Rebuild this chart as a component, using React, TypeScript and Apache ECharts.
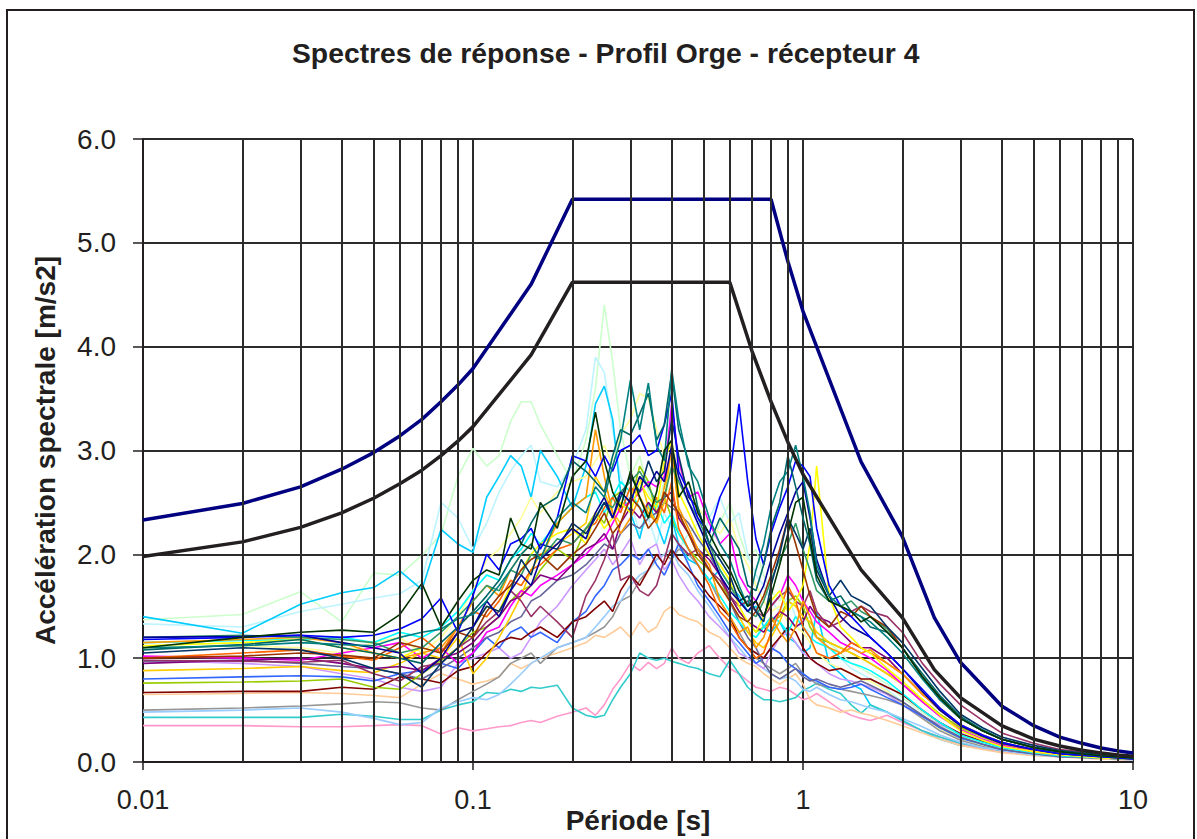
import React, { useEffect, useRef } from "react";
import * as echarts from "echarts";

const TITLE = "Spectres de réponse - Profil Orge - récepteur 4";
const X_NAME = "Période [s]";
const Y_NAME = "Accélération spectrale [m/s2]";
const xTickLabels = ["0.01", "0.1", "1", "10"];
const gridPeriods = [0.02, 0.03, 0.04, 0.05, 0.06, 0.07, 0.08, 0.09, 0.2, 0.3, 0.4, 0.5, 0.6, 0.7, 0.8, 0.9, 2, 3, 4, 5, 6, 7, 8, 9];

// design spectra
const navyPeriods = [0.01, 0.02, 0.03, 0.04, 0.05, 0.06, 0.07, 0.08, 0.09, 0.1, 0.15, 0.2, 0.8, 0.9, 1.0, 1.5, 2.0, 2.5, 3, 4, 5, 6, 7, 8, 9, 10];
const navyValues = [2.33, 2.49, 2.65, 2.82, 2.98, 3.14, 3.30, 3.47, 3.63, 3.79, 4.60, 5.42, 5.42, 4.82, 4.34, 2.89, 2.17, 1.39, 0.96, 0.54, 0.35, 0.24, 0.18, 0.135, 0.107, 0.087];
const blackPeriods = [0.01, 0.02, 0.03, 0.04, 0.05, 0.06, 0.07, 0.08, 0.09, 0.1, 0.15, 0.2, 0.6, 0.7, 0.8, 0.9, 1.0, 1.5, 2.0, 2.5, 3, 4, 5, 6, 7, 8, 9, 10];
const blackValues = [1.98, 2.12, 2.26, 2.40, 2.54, 2.68, 2.81, 2.95, 3.09, 3.23, 3.92, 4.62, 4.62, 3.96, 3.47, 3.08, 2.77, 1.85, 1.39, 0.89, 0.62, 0.35, 0.22, 0.154, 0.113, 0.087, 0.068, 0.055];

// periods of the computed spectra
const periods = [
  0.01, 0.02, 0.03, 0.04, 0.05, 0.06, 0.07, 0.08, 0.09, 0.1,
  0.11, 0.12, 0.13, 0.14, 0.15, 0.16, 0.18, 0.2, 0.22, 0.235,
  0.25, 0.265, 0.28, 0.3, 0.32, 0.34, 0.36, 0.38, 0.4, 0.42,
  0.45, 0.48, 0.52, 0.56, 0.6, 0.64, 0.68, 0.72, 0.76, 0.8,
  0.85, 0.9, 0.95, 1.0, 1.05, 1.1, 1.2, 1.3, 1.4, 1.5,
  1.6, 1.8, 2.0, 2.3, 2.6, 3.0, 3.5, 4, 5, 6, 8, 10,
];

const lightGreen = [1.37,1.42,1.64,1.35,1.82,1.80,1.99,2.19,2.75,3.02, 2.85,2.95,3.28,3.47,3.47,3.25,2.95,2.70,3.10,3.60, 4.40,3.85,3.20,2.75,2.95,2.60,2.45,2.70,2.55,2.35, 2.20,2.30,2.05,2.30,2.50,2.20,1.95,2.05,1.80,1.65, 1.55,1.70,1.50,1.35,1.40,1.25,1.15,1.05,0.95,0.90, 0.85,0.75,0.62,0.48,0.36,0.25,0.18,0.13,0.09,0.07,0.05,0.03];
const lightCyan = [1.33,1.30,1.45,1.52,1.58,1.62,1.75,2.50,2.35,2.05, 2.30,2.60,2.80,2.95,3.05,2.70,2.65,2.85,3.20,3.90, 3.75,3.20,2.75,2.50,2.20,2.35,2.10,2.40,2.25,2.05, 2.20,2.00,2.35,2.55,2.30,2.40,2.00,1.80,1.70,1.55, 1.45,1.60,1.40,1.30,1.25,1.20,1.10,1.00,0.90,0.85, 0.80,0.70,0.58,0.44,0.33,0.23,0.17,0.12,0.08,0.06,0.04,0.03];
const skyBlue = [1.40,1.24,1.52,1.63,1.68,1.84,1.66,2.24,2.10,2.02, 2.55,2.75,2.95,2.85,2.55,3.00,2.75,2.45,2.85,3.45, 3.62,3.30,2.60,2.40,2.15,2.50,2.30,2.10,2.35,2.10, 1.95,1.90,1.75,1.85,1.70,1.60,1.45,1.50,1.30,1.25, 1.35,1.20,1.15,1.05,1.10,1.45,0.95,0.85,0.75,0.70, 0.55,0.48,0.40,0.30,0.22,0.16,0.13,0.10,0.07,0.05,0.04,0.03];
const teal = [1.10,1.12,1.15,1.13,1.12,1.20,1.25,1.28,1.38,1.42, 1.55,1.70,1.85,2.00,2.10,1.95,2.35,2.50,2.40,2.65, 2.55,2.85,3.10,3.68,3.20,3.65,3.05,2.90,3.78,3.30, 2.85,2.70,2.35,2.10,1.95,1.70,1.50,1.85,2.10,2.45, 2.70,2.80,3.05,2.75,2.40,1.90,1.60,1.50,1.45,1.40, 1.35,1.20,1.05,0.80,0.60,0.42,0.30,0.22,0.14,0.10,0.06,0.04];
const blue = [1.18,1.20,1.22,1.20,1.22,1.28,1.38,1.58,1.25,1.60, 2.00,1.85,2.10,2.15,2.25,2.05,2.35,2.95,2.90,2.75, 2.95,2.80,3.00,3.05,3.15,2.95,3.00,3.25,3.55,2.80, 2.60,2.35,2.20,2.55,2.75,3.45,2.70,2.15,1.90,2.20, 2.45,2.65,2.90,2.85,2.75,2.25,1.70,1.50,1.40,1.30, 1.20,1.05,0.90,0.70,0.52,0.36,0.26,0.19,0.12,0.08,0.05,0.03];
const darkGreen = [1.10,1.20,1.25,1.27,1.25,1.42,1.72,1.30,1.55,1.75, 1.85,1.80,2.35,2.10,2.05,2.50,2.25,2.75,2.90,3.37, 2.90,2.60,2.45,2.80,2.55,2.35,2.60,3.00,3.10,2.55, 2.70,2.40,2.20,2.00,1.85,1.65,1.50,1.55,1.40,1.60, 1.90,2.20,2.50,2.55,2.15,1.80,1.55,1.50,1.45,1.35, 1.40,1.25,1.10,0.82,0.62,0.42,0.30,0.22,0.14,0.10,0.06,0.04];
const darkTeal = [1.08,1.13,1.18,1.10,1.05,1.00,0.95,1.15,1.30,1.45, 1.60,1.75,1.95,2.10,2.30,2.45,2.55,2.90,2.80,2.70, 2.60,2.95,3.20,3.15,3.35,3.55,3.10,3.25,3.75,3.20, 2.90,2.45,2.10,2.35,2.20,2.05,1.70,1.65,1.90,2.25, 2.50,2.95,2.65,2.35,2.10,1.75,1.55,1.60,1.45,1.40, 1.30,1.25,1.10,0.85,0.64,0.44,0.31,0.22,0.14,0.10,0.06,0.04];
const steelNavy = [1.05,1.10,1.08,1.00,0.90,0.85,0.72,0.95,1.10,1.30, 1.50,1.45,1.65,1.95,1.80,2.10,2.05,2.30,2.20,2.35, 2.50,2.35,2.55,2.75,2.60,2.90,2.70,2.80,3.30,2.95, 2.55,2.45,2.10,1.95,1.80,1.55,1.60,1.45,1.35,1.70, 2.00,2.35,2.20,2.05,2.25,1.85,1.60,1.75,1.60,1.55, 1.50,1.30,1.15,0.90,0.68,0.46,0.33,0.24,0.16,0.11,0.07,0.05];
const olive = [0.76,0.77,0.78,0.80,0.72,0.70,0.85,0.98,1.10,1.25, 1.30,1.40,1.55,1.65,1.70,1.85,2.05,1.95,2.25,2.40, 2.30,2.55,2.60,2.50,2.85,2.70,2.40,2.55,2.35,2.20, 2.05,1.95,1.85,1.70,1.60,1.45,1.35,1.25,1.30,1.35, 1.40,1.55,1.60,1.50,1.30,1.20,1.15,1.10,1.05,1.00, 0.95,0.85,0.75,0.60,0.46,0.33,0.24,0.17,0.11,0.08,0.05,0.03];
const yellow = [1.12,1.15,1.18,1.10,1.05,1.00,1.10,1.05,1.25,1.30, 1.50,1.45,1.70,1.85,2.00,2.10,2.20,2.25,2.10,2.40, 2.25,2.35,2.50,2.40,2.70,2.55,2.45,2.90,3.10,2.60, 2.40,2.20,2.00,1.90,1.75,1.50,1.35,1.25,1.40,1.55, 1.65,1.45,1.55,1.70,2.10,2.85,1.60,1.30,1.20,1.10, 1.05,0.90,0.78,0.60,0.45,0.30,0.21,0.15,0.10,0.07,0.04,0.03];
const paleYellow = [1.10,1.12,1.10,1.05,1.15,1.20,1.05,1.20,1.40,1.65, 1.95,2.05,2.20,2.35,2.55,2.40,2.60,2.70,2.75,2.90, 3.05,2.85,3.15,3.30,3.55,3.50,3.20,2.95,3.05,2.85, 2.60,2.45,2.30,2.20,2.35,2.05,1.90,1.70,1.55,1.45, 1.50,1.35,1.30,1.25,1.15,1.05,0.95,0.90,0.85,0.80, 0.78,0.68,0.56,0.42,0.32,0.22,0.16,0.12,0.08,0.06,0.04,0.03];
const gold = [0.88,0.90,0.92,0.88,0.86,0.95,1.05,1.00,1.20,0.85, 1.00,1.20,1.40,1.60,1.85,2.00,2.10,2.20,2.30,2.75, 2.60,2.40,2.30,2.55,2.75,2.45,2.30,2.50,3.05,2.40, 2.20,2.00,1.85,1.70,1.55,1.40,1.25,1.15,1.10,1.20, 1.35,1.55,1.50,1.40,1.35,1.25,1.15,1.10,1.05,1.00, 0.95,0.85,0.75,0.58,0.45,0.31,0.22,0.16,0.10,0.07,0.05,0.03];
const orange = [1.15,1.18,1.20,1.15,1.05,1.00,1.05,1.10,1.30,1.55, 1.70,1.60,1.85,2.00,2.10,1.95,2.30,2.45,2.55,3.20, 2.75,2.40,2.20,2.35,2.55,2.40,2.30,2.65,3.00,2.45, 2.25,2.05,1.90,1.55,1.40,1.25,1.30,1.10,1.20,1.40, 1.25,1.15,1.30,1.55,1.40,1.20,1.10,1.05,1.10,1.05, 1.08,0.95,0.85,0.66,0.50,0.35,0.25,0.18,0.12,0.08,0.05,0.04];
const darkOrange = [1.00,1.05,1.08,1.02,0.98,1.10,1.20,1.05,1.30,1.45, 1.40,1.55,1.75,1.70,1.85,1.90,2.05,2.10,2.25,2.30, 2.45,2.55,2.40,2.65,2.55,2.35,2.55,2.40,2.70,2.25, 2.05,1.90,1.70,1.45,1.35,1.20,1.10,1.00,1.05,1.25, 1.45,1.70,1.55,1.30,1.20,1.05,1.00,1.05,1.15,1.10, 1.05,0.95,0.85,0.65,0.52,0.36,0.26,0.19,0.12,0.08,0.05,0.04];
const magenta = [1.02,1.00,0.98,1.05,1.10,1.15,1.00,1.10,0.95,1.05, 1.25,1.30,1.50,1.65,1.60,1.70,1.80,1.90,2.00,2.10, 2.15,2.30,2.45,2.50,2.60,2.70,2.65,2.75,3.45,2.90, 2.55,2.60,2.30,2.10,2.20,1.80,1.65,1.55,1.40,1.50, 1.60,1.80,1.70,1.55,1.45,1.35,1.25,1.15,1.10,1.05, 1.00,0.88,0.75,0.58,0.44,0.31,0.22,0.16,0.10,0.07,0.05,0.03];
const purple = [0.95,0.98,1.00,0.95,0.90,0.92,0.88,1.00,1.05,1.15, 1.30,1.40,1.55,1.60,1.70,1.80,1.75,1.90,2.05,2.10, 2.20,2.05,2.30,2.45,2.35,2.50,2.40,2.55,2.60,2.35, 2.20,2.05,1.95,1.80,1.60,1.45,1.35,1.30,1.25,1.35, 1.45,1.40,1.30,1.35,1.50,1.40,1.35,1.25,1.15,1.10, 1.10,1.00,0.85,0.66,0.50,0.35,0.25,0.18,0.12,0.08,0.05,0.04];
const plum = [0.98,0.97,0.96,0.98,0.85,0.78,0.92,0.95,1.10,1.20, 1.35,1.45,1.65,1.55,1.40,1.50,1.35,1.20,1.60,1.75, 1.95,2.20,1.75,1.80,1.65,1.60,1.70,1.95,2.20,2.10, 2.00,2.05,1.85,1.75,1.60,1.50,1.55,1.45,1.40,1.50, 1.60,1.65,1.55,1.50,1.65,1.45,1.30,1.35,1.45,1.50, 1.45,1.40,1.25,0.95,0.75,0.55,0.40,0.28,0.18,0.12,0.08,0.05];
const lavender = [0.98,0.95,0.92,0.85,0.80,0.72,0.68,0.72,0.95,1.00, 1.05,1.10,1.00,1.05,1.20,1.35,1.50,1.70,1.85,1.95, 2.05,1.90,2.00,2.15,1.90,2.05,2.10,1.85,1.95,1.80, 1.65,1.55,1.40,1.30,1.20,1.05,1.00,0.95,0.90,1.05, 1.20,1.25,1.15,1.05,1.00,0.95,0.85,0.80,0.78,0.75, 0.72,0.65,0.55,0.44,0.36,0.28,0.20,0.15,0.10,0.07,0.05,0.03];
const peach = [0.65,0.66,0.67,0.66,0.64,0.62,0.75,0.85,0.80,0.75, 0.78,0.82,0.95,0.90,0.95,1.00,1.05,1.10,1.15,1.22, 1.20,1.25,1.30,1.20,1.35,1.25,1.30,1.45,1.50,1.42, 1.38,1.35,1.25,1.20,1.10,1.00,0.95,0.92,0.85,0.80, 0.75,0.80,0.85,0.75,0.60,0.55,0.52,0.48,0.50,0.47, 0.45,0.40,0.35,0.28,0.22,0.16,0.12,0.09,0.06,0.05,0.03,0.02];
const gray = [0.50,0.52,0.54,0.56,0.58,0.57,0.52,0.50,0.60,0.68, 0.75,0.82,0.95,1.00,1.05,0.95,1.10,1.15,1.20,1.25, 1.30,1.40,1.55,1.60,1.75,1.85,1.95,2.00,1.95,2.05, 2.00,1.90,1.75,1.55,1.40,1.25,1.10,1.00,0.95,0.90, 0.85,0.90,0.95,0.85,0.80,0.75,0.72,0.70,0.68,0.66, 0.64,0.60,0.55,0.42,0.30,0.21,0.15,0.11,0.08,0.05,0.04,0.03];
const lightBlue = [0.48,0.50,0.52,0.48,0.42,0.36,0.38,0.52,0.58,0.62, 0.60,0.65,0.75,0.85,0.95,1.00,1.10,1.15,1.20,1.30, 1.40,1.50,1.55,1.70,1.80,1.85,1.95,2.00,2.05,1.90, 1.80,1.65,1.50,1.35,1.20,1.10,1.00,0.95,0.90,0.85, 0.80,0.82,0.78,0.70,0.68,0.72,0.65,0.60,0.58,0.55, 0.52,0.48,0.42,0.34,0.26,0.19,0.14,0.11,0.07,0.05,0.04,0.02];
const royalBlue = [0.80,0.82,0.83,0.82,0.78,0.85,0.88,0.95,0.90,1.05, 1.20,1.10,1.25,1.30,1.20,1.25,1.15,1.35,1.45,1.60, 1.70,1.85,1.90,2.00,1.95,2.05,1.90,1.80,1.95,2.10, 1.90,1.70,1.55,1.40,1.25,1.15,1.05,0.95,1.00,1.10, 1.05,0.95,0.90,0.85,0.80,0.78,0.72,0.70,0.72,0.75, 0.70,0.62,0.55,0.44,0.33,0.23,0.17,0.12,0.08,0.06,0.04,0.03];
const maroon = [0.67,0.68,0.68,0.72,0.70,0.82,0.80,0.76,0.88,0.92, 1.05,1.15,1.20,1.18,1.25,1.30,1.20,1.35,1.40,1.48, 1.55,1.45,1.65,1.80,1.70,1.85,2.00,1.90,2.05,1.95, 1.85,1.75,1.60,1.50,1.40,1.20,1.10,1.05,1.00,1.10, 1.20,1.30,1.25,1.10,1.00,0.95,0.88,0.90,0.85,0.80, 0.80,0.72,0.65,0.50,0.38,0.27,0.20,0.15,0.10,0.07,0.04,0.03];
const brown = [1.00,1.02,1.05,1.03,1.00,1.15,1.10,1.05,1.25,1.20, 1.45,1.60,1.70,1.85,1.95,2.00,1.85,2.00,2.10,2.25, 2.40,2.20,2.30,2.55,2.45,2.25,2.35,2.60,2.50,2.40, 2.20,2.00,1.85,1.70,1.55,1.40,1.35,1.45,1.60,1.80, 2.05,2.35,2.10,1.85,1.60,1.40,1.30,1.45,1.40,1.50, 1.40,1.30,1.10,0.82,0.60,0.42,0.30,0.22,0.14,0.10,0.06,0.04];
const turquoise = [0.43,0.43,0.43,0.46,0.44,0.41,0.41,0.50,0.55,0.58, 0.67,0.66,0.70,0.68,0.72,0.71,0.74,0.52,0.45,0.43, 0.45,0.60,0.72,0.85,1.05,1.00,0.98,1.00,0.97,0.95, 0.92,0.90,0.85,0.82,0.98,0.85,0.72,0.65,0.60,0.60, 0.58,0.60,0.62,0.69,0.72,0.76,0.70,0.66,0.55,0.47, 0.55,0.48,0.40,0.30,0.24,0.18,0.14,0.11,0.08,0.05,0.04,0.03];
const pink = [0.35,0.35,0.34,0.34,0.35,0.36,0.35,0.27,0.33,0.30, 0.32,0.34,0.35,0.38,0.40,0.38,0.44,0.48,0.52,0.45, 0.55,0.70,0.80,0.95,0.88,0.96,0.90,0.95,1.10,1.00, 0.95,1.05,1.12,1.00,0.90,0.85,0.78,0.72,0.70,0.68, 0.72,0.70,0.65,0.60,0.62,0.66,0.58,0.50,0.45,0.42, 0.40,0.45,0.38,0.30,0.24,0.17,0.13,0.10,0.07,0.05,0.03,0.02];
const cyan = [1.15,1.17,1.18,1.20,1.15,1.25,1.20,1.30,1.45,1.65, 1.80,1.75,1.95,2.05,2.20,2.10,2.30,2.45,2.55,2.60, 2.40,2.55,2.70,2.60,2.45,2.35,2.50,2.30,2.40,2.20, 2.05,1.90,1.75,1.60,1.45,1.35,1.25,1.20,1.30,1.40, 1.35,1.25,1.40,1.30,1.20,1.15,1.10,1.00,0.95,0.92, 0.88,0.78,0.66,0.50,0.38,0.26,0.19,0.14,0.09,0.06,0.04,0.03];
const seaGreen = [1.20,1.22,1.20,1.18,1.15,1.05,1.10,1.25,1.40,1.55, 1.70,1.65,1.85,1.80,2.00,1.95,2.15,2.10,2.25,2.35, 2.50,2.45,2.60,2.70,2.80,2.65,2.50,2.55,2.85,2.70, 2.50,2.35,2.10,1.85,1.70,1.55,1.45,1.40,1.55,1.75, 1.95,2.10,2.30,2.05,1.85,1.65,1.55,1.50,1.55,1.45, 1.40,1.28,1.10,0.82,0.60,0.42,0.30,0.22,0.14,0.10,0.06,0.04];
const slate = [0.97,0.98,0.95,0.92,0.90,0.85,0.80,0.90,1.00,1.10, 1.20,1.25,1.35,1.40,1.55,1.60,1.75,1.80,1.90,2.00, 2.10,2.05,2.20,2.30,2.25,2.35,2.40,2.50,2.45,2.40, 2.30,2.15,2.00,1.80,1.55,1.35,1.20,1.10,0.95,0.85, 0.80,0.85,0.90,0.82,0.78,0.80,0.75,0.72,0.75,0.78, 0.74,0.66,0.58,0.45,0.34,0.24,0.17,0.12,0.08,0.05,0.04,0.03];
const deepBlue = [1.20,1.21,1.22,1.15,1.10,1.05,0.85,1.00,1.25,1.30, 1.55,1.40,1.65,1.80,1.70,1.95,2.10,2.25,2.15,2.40, 2.55,2.35,2.60,2.50,2.75,2.65,2.80,2.70,3.05,2.75, 2.50,2.30,2.05,1.80,1.65,1.55,1.45,1.55,1.70,1.95, 2.20,2.40,2.60,2.70,2.35,1.95,1.60,1.40,1.30,1.25, 1.20,1.05,0.90,0.68,0.50,0.35,0.25,0.18,0.12,0.08,0.05,0.03];

const spectra: { name: string; color: string; values: number[] }[] = [
  { name: "r1", color: "#CCFFCC", values: lightGreen },
  { name: "r2", color: "#BDF4FF", values: lightCyan },
  { name: "r3", color: "#00CCFF", values: skyBlue },
  { name: "r4", color: "#FFFF99", values: paleYellow },
  { name: "r5", color: "#FF99CC", values: pink },
  { name: "r6", color: "#33CCCC", values: turquoise },
  { name: "r7", color: "#FFCC99", values: peach },
  { name: "r8", color: "#969696", values: gray },
  { name: "r9", color: "#99CCFF", values: lightBlue },
  { name: "r10", color: "#CC99FF", values: lavender },
  { name: "r11", color: "#3366FF", values: royalBlue },
  { name: "r12", color: "#800000", values: maroon },
  { name: "r13", color: "#666699", values: slate },
  { name: "r14", color: "#99CC00", values: olive },
  { name: "r15", color: "#00FFFF", values: cyan },
  { name: "r16", color: "#FFCC00", values: gold },
  { name: "r17", color: "#FF00FF", values: magenta },
  { name: "r18", color: "#800080", values: purple },
  { name: "r19", color: "#993366", values: plum },
  { name: "r20", color: "#FF6600", values: darkOrange },
  { name: "r21", color: "#FF9900", values: orange },
  { name: "r22", color: "#FFFF00", values: yellow },
  { name: "r23", color: "#339966", values: seaGreen },
  { name: "r24", color: "#993300", values: brown },
  { name: "r25", color: "#003366", values: steelNavy },
  { name: "r26", color: "#000099", values: deepBlue },
  { name: "r27", color: "#0000FF", values: blue },
  { name: "r28", color: "#006666", values: darkTeal },
  { name: "r29", color: "#008080", values: teal },
  { name: "r30", color: "#003300", values: darkGreen },
];

const FONT = "'Liberation Sans', Arial, sans-serif";

export default function App() {
  const ref = useRef<HTMLDivElement>(null);
  useEffect(() => {
    if (!ref.current) return;
    const chart = echarts.init(ref.current, undefined, { renderer: "svg" });
    const series: any[] = [];
    series.push({
      type: "line",
      name: "grid",
      data: [[0.01, 0]],
      symbol: "none",
      lineStyle: { opacity: 0 },
      silent: true,
      z: 1,
      markLine: {
        silent: true,
        symbol: ["none", "none"],
        label: { show: false },
        lineStyle: { color: "#2b2b2b", width: 2, type: "solid" },
        data: gridPeriods.map((p) => ({ xAxis: p })),
      },
    });
    spectra.forEach((s) => {
      series.push({
        type: "line",
        name: s.name,
        data: periods.map((p, i) => [p, s.values[i]]),
        symbol: "none",
        lineStyle: { color: s.color, width: 1.6 },
        z: 3,
      });
    });
    series.push({
      type: "line",
      name: "EC8 b",
      data: blackPeriods.map((p, i) => [p, blackValues[i]]),
      symbol: "none",
      lineStyle: { color: "#231f20", width: 3.5 },
      z: 4,
    });
    series.push({
      type: "line",
      name: "EC8 a",
      data: navyPeriods.map((p, i) => [p, navyValues[i]]),
      symbol: "none",
      lineStyle: { color: "#000080", width: 3.5 },
      z: 4,
    });
    chart.setOption({
      animation: false,
      backgroundColor: "#ffffff",
      title: {
        text: TITLE,
        left: 287,
        top: 34,
        textStyle: { fontFamily: FONT, fontSize: 28.3, fontWeight: "bold", color: "#231f20" },
      },
      graphic: [
        {
          type: "rect",
          shape: { x: 7, y: 10, width: 1187, height: 900 },
          style: { fill: "none", stroke: "#231f20", lineWidth: 2 },
          silent: true,
          z: 0,
        },
      ],
      grid: { left: 143, right: 64, top: 139, bottom: 77, outerBoundsMode: "none", containLabel: false },
      xAxis: {
        type: "log",
        logBase: 10,
        min: 0.01,
        max: 10,
        name: X_NAME,
        nameLocation: "middle",
        nameGap: 44,
        nameMoveOverlap: false,
        nameTextStyle: { fontFamily: FONT, fontSize: 28, fontWeight: "bold", color: "#231f20" },
        axisLine: { show: true, lineStyle: { color: "#231f20", width: 2 } },
        axisTick: { show: true, length: 8, lineStyle: { color: "#231f20", width: 1.5 } },
        axisLabel: {
          fontFamily: FONT,
          fontSize: 27,
          color: "#231f20",
          margin: 24,
          formatter: (v: number) => xTickLabels[Math.round(Math.log10(v)) + 2] ?? "",
        },
        splitLine: { show: true, lineStyle: { color: "#2b2b2b", width: 2 } },
        minorTick: { show: false },
        minorSplitLine: { show: false },
      },
      yAxis: {
        type: "value",
        min: 0,
        max: 6,
        interval: 1,
        name: Y_NAME,
        nameLocation: "middle",
        nameGap: 84,
        nameMoveOverlap: false,
        nameTextStyle: { fontFamily: FONT, fontSize: 28, fontWeight: "bold", color: "#231f20" },
        axisLine: { show: true, lineStyle: { color: "#231f20", width: 2 } },
        axisTick: { show: true, length: 10, lineStyle: { color: "#231f20", width: 1.5 } },
        axisLabel: {
          fontFamily: FONT,
          fontSize: 28,
          color: "#231f20",
          margin: 27,
          formatter: (v: number) => v.toFixed(1),
        },
        splitLine: { show: true, lineStyle: { color: "#2b2b2b", width: 2 } },
      },
      series,
    });
    return () => chart.dispose();
  }, []);
  return (
    <div
      ref={ref}
      style={{ position: "absolute", left: 0, top: 0, width: 1197, height: 839, background: "#fff" }}
    />
  );
}
